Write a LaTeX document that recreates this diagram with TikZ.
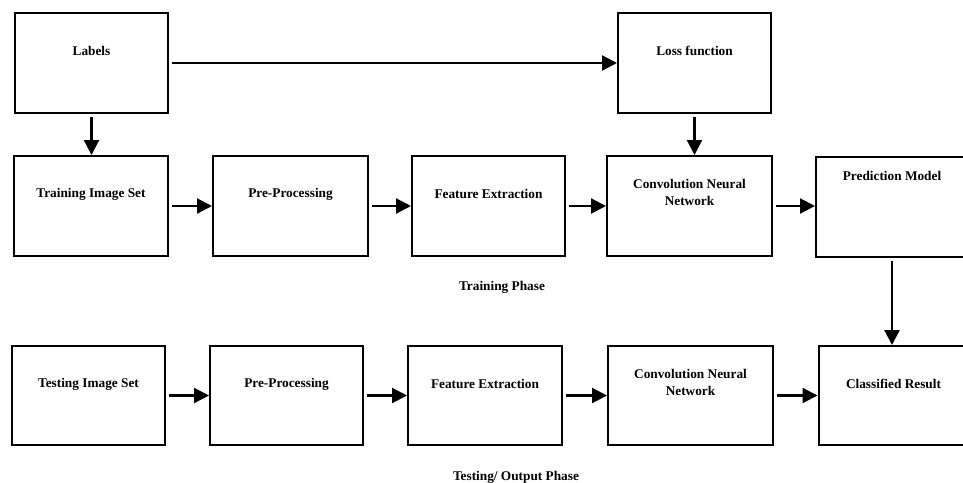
\documentclass[tikz,border=0pt]{standalone}
\usepackage{fontspec}
\setmainfont{Liberation Serif}
\usetikzlibrary{arrows.meta}

\begin{document}
\begin{tikzpicture}[x=1pt,y=-1pt]
      \tikzset{blk/.style={rectangle,draw,line width=2pt,minimum height=100pt,inner sep=0pt}}
      \tikzset{txt/.style={font=\fontsize{13.3}{16.5}\selectfont\bfseries,align=center,inner sep=0pt}}
      \tikzset{arrow/.style={draw,line width=2.2pt,-{Triangle[length=15pt,width=15pt]},shorten <=2.5pt}}
      \def\txtdrop{-39pt}

      \useasboundingbox (0,0) rectangle (963,482);

      % top row
      \node[blk,minimum width=153pt] (labels) at (91.5,63) {};
      \node[blk,minimum width=153pt] (loss) at (694.5,63) {};

      % training phase
      \node[blk,minimum width=154pt] (train) at (91,206) {};
      \node[blk,minimum width=155pt] (pre1) at (290.5,206) {};
      \node[blk,minimum width=153pt] (fe1) at (488.5,206) {};
      \node[blk,minimum width=165pt] (cnn1) at (689.5,206) {};
      \node[blk,minimum width=152pt] (pred) at (892,207) {};

      % testing phase
      \node[blk,minimum width=153pt,minimum height=99pt] (test) at (88.5,395.5) {};
      \node[blk,minimum width=153pt,minimum height=99pt] (pre2) at (286.5,395.5) {};
      \node[blk,minimum width=154pt,minimum height=99pt] (fe2) at (485,395.5) {};
      \node[blk,minimum width=165pt,minimum height=99pt] (cnn2) at (690.5,395.5) {};
      \node[blk,minimum width=150pt,minimum height=99pt] (res) at (893.5,395.5) {};

      % texts
      \node[txt] (labels-t) at ([yshift=\txtdrop]labels.north) {Labels};
      \node[txt] (loss-t) at ([yshift=\txtdrop]loss.north) {Loss function};
      \node[txt] (train-t) at ([yshift=\txtdrop]train.north) {Training Image Set};
      \node[txt] (pre1-t) at ([yshift=\txtdrop]pre1.north) {Pre-Processing};
      \node[txt] (fe1-t) at ([yshift=\txtdrop]fe1.north) {Feature Extraction};
      \node[txt] (cnn1-t) at ([yshift=-37.5pt]cnn1.north) {Convolution Neural\\Network};
      \node[txt] (pred-t) at ([yshift=-20pt]pred.north) {Prediction Model};
      \node[txt] (test-t) at ([yshift=\txtdrop]test.north) {Testing Image Set};
      \node[txt] (pre2-t) at ([yshift=\txtdrop]pre2.north) {Pre-Processing};
      \node[txt] (fe2-t) at ([yshift=\txtdrop]fe2.north) {Feature Extraction};
      \node[txt] (cnn2-t) at ([yshift=-37.5pt]cnn2.north) {Convolution Neural\\Network};
      \node[txt] (res-t) at ([yshift=\txtdrop]res.north) {Classified Result};

      \node[txt] (trainphase) at (502,287) {Training Phase};
      \node[txt] (testphase) at (516,477) {Testing/ Output Phase};

      % arrows
      \draw[arrow] (labels.east) -- (loss.west);
      \draw[arrow] (labels.south) -- (labels.south |- train.north);
      \draw[arrow] (loss.south) -- (loss.south |- cnn1.north);
      \draw[arrow] (train.east) -- (pre1.west);
      \draw[arrow] (pre1.east) -- (fe1.west);
      \draw[arrow] (fe1.east) -- (cnn1.west);
      \draw[arrow] (cnn1.east) -- (cnn1.east -| pred.west);
      \draw[arrow] (pred.south) -- (pred.south |- res.north);
      \draw[arrow] (test.east) -- (pre2.west);
      \draw[arrow] (pre2.east) -- (fe2.west);
      \draw[arrow] (fe2.east) -- (cnn2.west);
      \draw[arrow] (cnn2.east) -- (res.west);
\end{tikzpicture}
\end{document}
